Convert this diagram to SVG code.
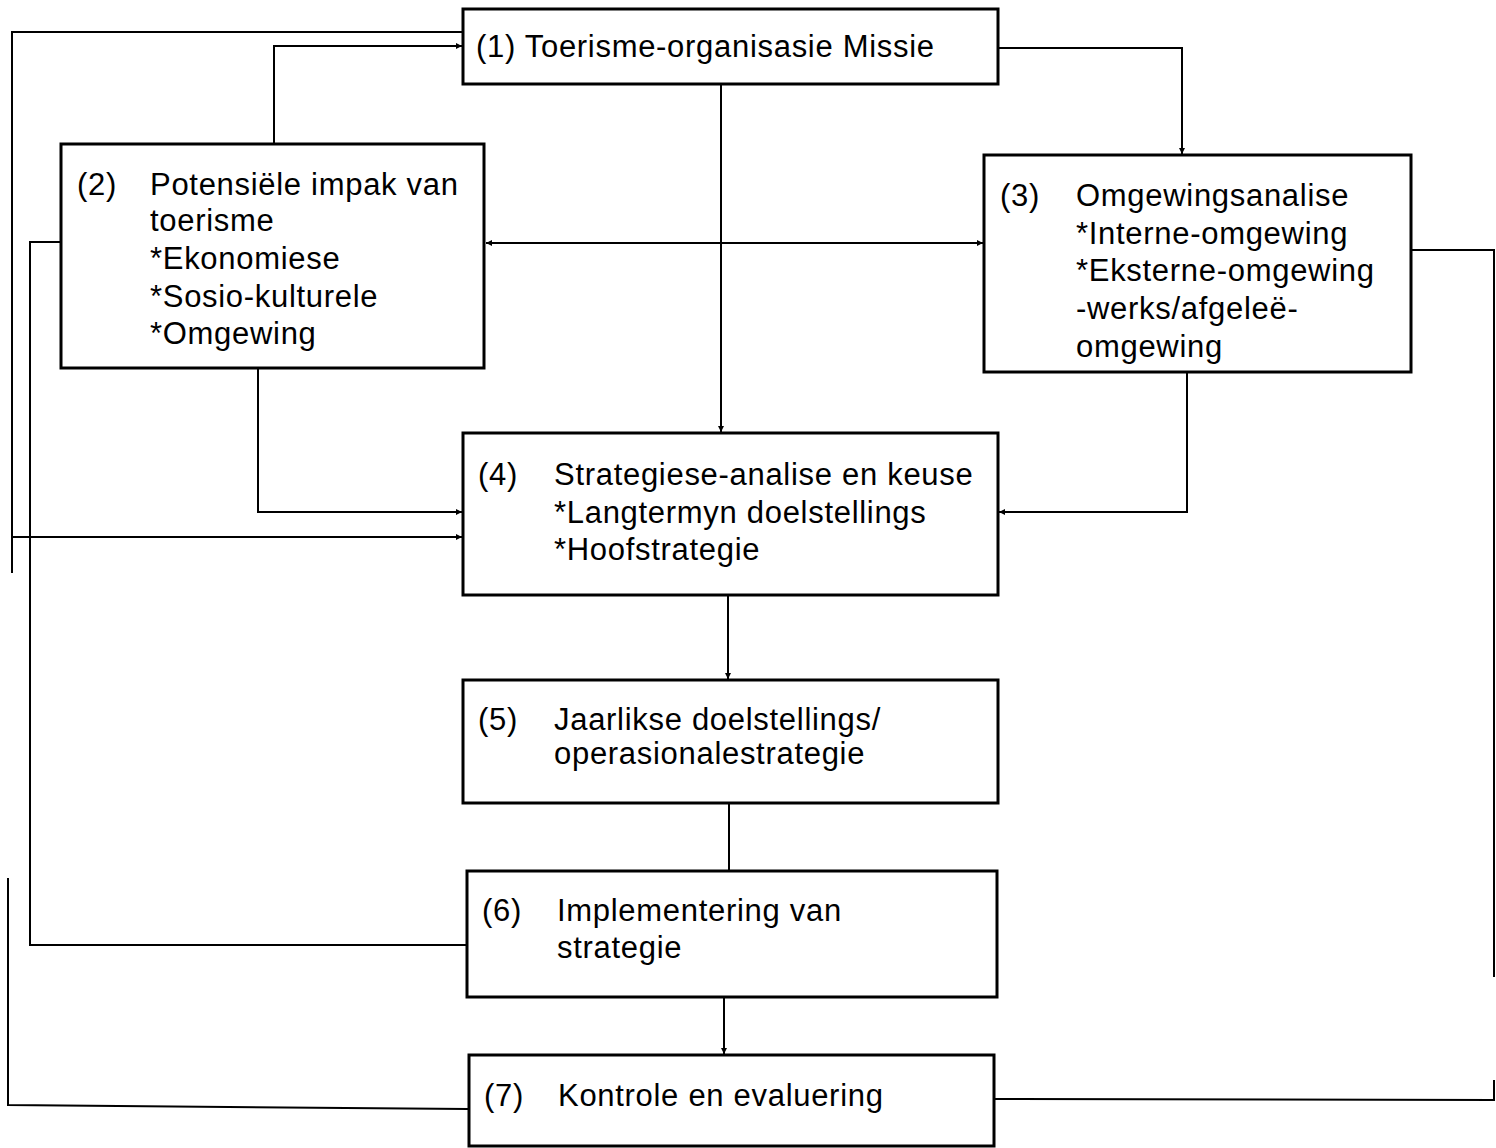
<svg xmlns="http://www.w3.org/2000/svg" width="1496" height="1148" viewBox="0 0 1496 1148">
  <style>
    .box { fill: #fff; stroke: #000; stroke-width: 3; }
    .lbl { font-family: "Liberation Sans", Arial, sans-serif; font-size: 31px; letter-spacing: 0.7px; fill: #000; }
    .wire { fill: none; stroke: #000; stroke-width: 2; }
    .arr { marker-end: url(#head); }
  </style>
  <defs>
    <marker id="head" viewBox="0 0 10 10" refX="10" refY="5" markerWidth="9" markerHeight="6" markerUnits="userSpaceOnUse" orient="auto">
      <path d="M0,0 L10,5 L0,10 z" fill="#000"/>
    </marker>
  </defs>

  <!-- connectors -->
  <g id="connectors">
    <!-- feedback loop on the far left, top part -->
    <polyline class="wire" points="12,573 12,32 462,32"/>
    <line class="wire arr" x1="12" y1="537" x2="462" y2="537"/>
    <!-- 2 -> 1 -->
    <polyline class="wire arr" points="274,143 274,46 462,46"/>
    <!-- 1 -> 3 -->
    <polyline class="wire arr" points="998,48 1182,48 1182,154"/>
    <!-- 1 -> 4 -->
    <line class="wire arr" x1="721" y1="84" x2="721" y2="432"/>
    <!-- 2 <-> 3 -->
    <line class="wire arr" x1="700" y1="243" x2="486" y2="243"/>
    <line class="wire arr" x1="700" y1="243" x2="983" y2="243"/>
    <!-- 2 -> 4 -->
    <polyline class="wire arr" points="258,368 258,512 462,512"/>
    <!-- 3 -> 4 -->
    <polyline class="wire arr" points="1187,373 1187,512 999,512"/>
    <!-- 2 / 6 side link -->
    <polyline class="wire" points="61,242 30,242 30,945 467,945"/>
    <!-- 3 right side -->
    <polyline class="wire" points="1411,250 1494,250 1494,977"/>
    <!-- 7 left feedback -->
    <polyline class="wire" points="8,878 8,1105 468,1109"/>
    <!-- 7 right feedback -->
    <polyline class="wire" points="994,1099 1494,1100 1494,1080"/>
    <!-- 4 -> 5 -> 6 -> 7 -->
    <line class="wire arr" x1="728" y1="595" x2="728" y2="679"/>
    <line class="wire" x1="729" y1="803" x2="729" y2="870"/>
    <line class="wire arr" x1="724" y1="997" x2="724" y2="1054"/>
  </g>

  <g id="n1">
    <rect class="box" x="463" y="9" width="535" height="75"/>
    <text class="lbl" x="476" y="57">(1) Toerisme-organisasie Missie</text>
  </g>

  <g id="n2">
    <rect class="box" x="61" y="144" width="423" height="224"/>
    <text class="lbl" x="77" y="195">(2)</text>
    <text class="lbl" x="150" y="195">Potensiële impak van</text>
    <text class="lbl" x="150" y="231">toerisme</text>
    <text class="lbl" x="150" y="269">*Ekonomiese</text>
    <text class="lbl" x="150" y="307">*Sosio-kulturele</text>
    <text class="lbl" x="150" y="344">*Omgewing</text>
  </g>

  <g id="n3">
    <rect class="box" x="984" y="155" width="427" height="217"/>
    <text class="lbl" x="1000" y="206">(3)</text>
    <text class="lbl" x="1076" y="206">Omgewingsanalise</text>
    <text class="lbl" x="1076" y="244">*Interne-omgewing</text>
    <text class="lbl" x="1076" y="281">*Eksterne-omgewing</text>
    <text class="lbl" x="1076" y="319">-werks/afgeleë-</text>
    <text class="lbl" x="1076" y="357">omgewing</text>
  </g>

  <g id="n4">
    <rect class="box" x="463" y="433" width="535" height="162"/>
    <text class="lbl" x="478" y="485">(4)</text>
    <text class="lbl" x="554" y="485">Strategiese-analise en keuse</text>
    <text class="lbl" x="554" y="523">*Langtermyn doelstellings</text>
    <text class="lbl" x="554" y="560">*Hoofstrategie</text>
  </g>

  <g id="n5">
    <rect class="box" x="463" y="680" width="535" height="123"/>
    <text class="lbl" x="478" y="730">(5)</text>
    <text class="lbl" x="554" y="730">Jaarlikse doelstellings/</text>
    <text class="lbl" x="554" y="764">operasionalestrategie</text>
  </g>

  <g id="n6">
    <rect class="box" x="467" y="871" width="530" height="126"/>
    <text class="lbl" x="482" y="921">(6)</text>
    <text class="lbl" x="557" y="921">Implementering van</text>
    <text class="lbl" x="557" y="958">strategie</text>
  </g>

  <g id="n7">
    <rect class="box" x="469" y="1055" width="525" height="91"/>
    <text class="lbl" x="484" y="1106">(7)</text>
    <text class="lbl" x="558" y="1106">Kontrole en evaluering</text>
  </g>
</svg>
